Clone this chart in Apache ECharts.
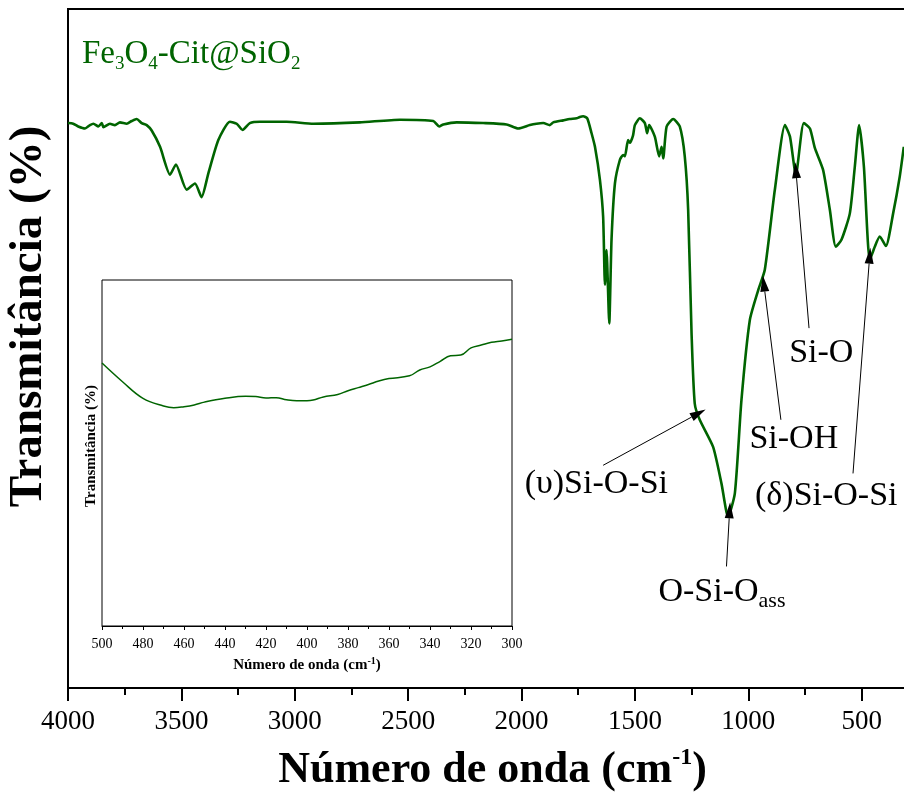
<!DOCTYPE html>
<html>
<head>
<meta charset="utf-8">
<script src="https://cdn.jsdelivr.net/npm/echarts@6/dist/echarts.min.js"></script>
<style>
  html, body { margin: 0; padding: 0; background: #fff; }
  #chart { width: 904px; height: 798px; }
</style>
</head>
<body>
<div id="chart"></div>
<script>
// FTIR spectrum of Fe3O4-Cit@SiO2 (wavenumber in cm-1, transmittance in arbitrary %)
const mainWavenumber = [4000,3977,3955,3925,3903,3888,3866,3851,3844,3815,3793,3771,3741,3719,3697,3675,3653,3631,3594,3550,3524,3477,3440,3411,3381,3337,3286,3256,3230,3198,3153,3036,2918,2713,2536,2389,2363,2345,2286,2169,2066,2015,1963,1934,1904,1875,1860,1816,1787,1757,1743,1728,1710,1691,1676,1654,1640,1632,1625,1613,1603,1588,1566,1552,1544,1530,1522,1508,1500,1478,1456,1446,1437,1412,1393,1382,1375,1360,1331,1302,1280,1265,1250,1236,1214,1155,1118,1089,1059,1030,993,956,927,883,838,816,790,755,728,706,670,640,614,589,552,530,511,490,464,442,420,393,361,332,314];
const mainTransmittance = [83.2,83.1,82.7,82.4,82.9,83.1,82.7,83.2,82.6,83.1,82.9,83.3,83.1,83.5,83.8,83.2,82.9,82.1,79.7,75.6,77.1,73.4,74.3,72.3,75.8,80.7,83.4,83.1,82.2,83.2,83.4,83.4,83.1,83.3,83.7,83.5,82.7,83.0,83.3,83.2,83.0,82.4,82.9,83.1,83.2,82.9,83.3,83.6,83.8,83.9,84.1,84.2,83.9,81.7,79.7,74.8,69.4,59.4,64.5,53.7,66.0,74.3,77.8,78.5,78.3,80.7,80.3,81.4,82.9,83.9,83.2,81.7,82.9,81.2,78.3,79.7,78.0,82.7,83.8,82.7,78.3,70.4,52.2,41.9,39.5,35.5,30.1,25.2,28.7,42.4,54.2,58.6,61.6,73.3,82.9,81.2,75.6,83.2,82.4,79.5,76.3,70.4,65.0,66.0,69.9,76.8,82.9,76.8,63.0,65.0,66.5,65.1,69.9,75.3,79.7];

// Far-IR detail, 500-300 cm-1
const insetWavenumber = [500,490,480,470,465,460,455,450,440,430,425,420,415,410,405,400,397,392,385,380,375,370,365,360,350,345,340,335,330,325,320,315,310,305,300];
const insetTransmittance = [76.0,70.6,65.8,63.6,63.1,63.4,63.9,64.7,65.8,66.4,66.3,65.9,66.0,65.4,65.1,65.1,65.3,66.2,66.9,68.0,68.9,69.8,70.8,71.5,72.3,74.0,74.9,76.5,78.1,78.3,80.4,81.2,82.0,82.4,82.9];

// Band assignments: label text, label anchor, arrow tail, arrow tip (wavenumber, transmittance)
const bandLabels = ['(υ)Si-O-Si', 'O-Si-O{s|ass}', 'Si-OH', 'Si-O', '(δ)Si-O-Si'];
const bandLabelAt = [[1670, 30.1], [1116, 14.1], [799, 36.7], [678, 49.3], [656, 28.3]];
const bandArrowFrom = [[1640, 32.8], [1096, 17.9], [856, 39.5], [732, 53.0], [538, 31.6]];
const bandArrowTo = [[1250, 39.9], [1084, 25.0], [927, 58.4], [787, 75.1], [467, 62.5]];

const sampleName = '{m|Fe}{s|3}{m|O}{s|4}{m|-Cit@SiO}{s|2}';
const axisTitleX = 'Número de onda (cm{sup|-1})';
const axisTitleY = 'Transmitância (%)';

const SERIF = "'Liberation Serif', 'Times New Roman', serif";
const GREEN = '#006400';

const chart = echarts.init(document.getElementById('chart'), null, { renderer: 'canvas' });

const mainData = mainWavenumber.map((w, i) => [w, mainTransmittance[i]]);
const insetData = insetWavenumber.map((w, i) => [w, insetTransmittance[i]]);

const plainNumber = v => String(v);
// Narrow filled arrowhead; the empty lower half puts the tip at the line end
const arrowHead = 'path://M5,0 L10,16 L0,16 Z M5,32 L5.01,32';

chart.setOption({
  animation: false,
  backgroundColor: '#fff',
  title: {
    text: sampleName,
    left: 82,
    top: 34,
    padding: 0,
    textStyle: {
      fontWeight: 'normal',
      rich: {
        m: { fontFamily: SERIF, fontSize: 33, fontWeight: 'normal', color: GREEN, lineHeight: 40 },
        s: { fontFamily: SERIF, fontSize: 19, fontWeight: 'normal', color: GREEN, lineHeight: 9, verticalAlign: 'bottom' }
      }
    }
  },
  grid: [
    { left: 68, top: 9, width: 907, height: 679, outerBoundsMode: 'none', containLabel: false,
      show: true, borderColor: '#000', borderWidth: 2, backgroundColor: 'transparent' },
    { left: 102, top: 280, width: 410, height: 346, outerBoundsMode: 'none', containLabel: false,
      show: true, borderColor: '#000', borderWidth: 1, backgroundColor: '#fff' }
  ],
  xAxis: [
    {
      gridIndex: 0, type: 'value', min: 0, max: 4000, interval: 500, inverse: true,
      axisLine: { show: true, lineStyle: { color: '#000', width: 2 } },
      axisTick: { show: true, inside: false, length: 13, lineStyle: { color: '#000', width: 2 } },
      minorTick: { show: true, splitNumber: 2, length: 7, lineStyle: { color: '#000', width: 2 } },
      splitLine: { show: false },
      axisLabel: { fontFamily: SERIF, fontSize: 27, color: '#000', margin: 20, formatter: plainNumber },
      name: axisTitleX, nameLocation: 'middle', nameGap: 58,
      nameTextStyle: {
        padding: [0, 58, 0, 0],
        rich: {
          sup: { fontFamily: SERIF, fontSize: 24, fontWeight: 'bold', color: '#000', lineHeight: 36, verticalAlign: 'top' }
        },
        fontFamily: SERIF, fontSize: 44, fontWeight: 'bold', color: '#000', lineHeight: 50
      }
    },
    {
      gridIndex: 1, type: 'value', min: 300, max: 500, interval: 20, inverse: true,
      axisLine: { show: true, lineStyle: { color: '#000', width: 1 } },
      axisTick: { show: true, inside: false, length: 4, lineStyle: { color: '#000', width: 1 } },
      minorTick: { show: true, splitNumber: 2, length: 3, lineStyle: { color: '#000', width: 1 } },
      splitLine: { show: false },
      axisLabel: { fontFamily: SERIF, fontSize: 14, color: '#000', margin: 11, formatter: plainNumber },
      name: axisTitleX, nameLocation: 'middle', nameGap: 30,
      nameTextStyle: {
        rich: {
          sup: { fontFamily: SERIF, fontSize: 10, fontWeight: 'bold', color: '#000', lineHeight: 12, verticalAlign: 'top' }
        },
        fontFamily: SERIF, fontSize: 15, fontWeight: 'bold', color: '#000', lineHeight: 18
      }
    }
  ],
  yAxis: [
    {
      gridIndex: 0, type: 'value', min: 0, max: 100,
      axisLine: { show: false }, axisTick: { show: false }, axisLabel: { show: false }, splitLine: { show: false },
      name: axisTitleY, nameLocation: 'middle', nameRotate: 90, nameGap: 16,
      nameTextStyle: { fontFamily: SERIF, fontSize: 47, fontWeight: 'bold', color: '#000', padding: [0, 0, 0, 64] }
    },
    {
      gridIndex: 1, type: 'value', min: 0, max: 100,
      axisLine: { show: false }, axisTick: { show: false }, axisLabel: { show: false }, splitLine: { show: false },
      name: axisTitleY, nameLocation: 'middle', nameRotate: 90, nameGap: 3,
      nameTextStyle: { fontFamily: SERIF, fontSize: 15, fontWeight: 'bold', color: '#000', padding: [0, 0, 0, 14] }
    }
  ],
  series: [
    {
      type: 'line', xAxisIndex: 0, yAxisIndex: 0, data: mainData,
      showSymbol: false, smooth: 0.2, clip: true,
      lineStyle: { color: GREEN, width: 2.6 },
      markLine: {
        silent: true,
        symbol: ['none', arrowHead],
        symbolSize: [9, 32],
        itemStyle: { color: '#000' },
        lineStyle: { color: '#000', width: 1, type: 'solid' },
        label: { show: false },
        data: bandArrowFrom.map((from, i) => [{ coord: from }, { coord: bandArrowTo[i] }])
      },
      markPoint: {
        silent: true,
        symbol: 'circle',
        symbolSize: 0,
        itemStyle: { color: 'transparent' },
        label: {
          show: true,
          position: 'inside',
          fontFamily: SERIF, fontSize: 34, color: '#000', lineHeight: 40,
          rich: {
            s: { fontFamily: SERIF, fontSize: 22, color: '#000', lineHeight: 6, verticalAlign: 'bottom' }
          }
        },
        data: bandLabels.map((text, i) => ({
          coord: bandLabelAt[i],
          label: { formatter: text }
        }))
      }
    },
    {
      type: 'line', xAxisIndex: 1, yAxisIndex: 1, data: insetData,
      showSymbol: false, smooth: 0.4,
      lineStyle: { color: GREEN, width: 1.5 }
    }
  ]
});
</script>
</body>
</html>
